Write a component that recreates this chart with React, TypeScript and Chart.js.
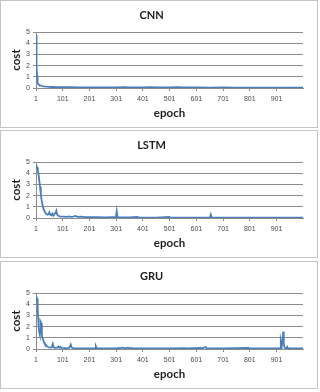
import React, { useEffect, useRef } from "react";
import { Chart, registerables } from "chart.js";

Chart.register(...registerables);

const xTickLabels = [1, 101, 201, 301, 401, 501, 601, 701, 801, 901];
const yTickLabels = [0, 1, 2, 3, 4, 5];

const cnnEpochs = [1, 2, 3, 4, 5, 6, 8, 10, 12, 15, 20, 25, 30, 40, 50, 60, 80, 100, 130, 160, 200, 250, 300, 330, 350, 400, 430, 450, 500, 530, 550, 600, 650, 700, 750, 800, 850, 900, 950, 1000];
const cnnCost = [4.7, 4.6, 3.5, 2.0, 1.1, 0.7, 0.45, 0.35, 0.3, 0.25, 0.2, 0.17, 0.15, 0.12, 0.1, 0.09, 0.08, 0.07, 0.07, 0.06, 0.06, 0.06, 0.05, 0.08, 0.05, 0.06, 0.08, 0.05, 0.05, 0.07, 0.05, 0.05, 0.04, 0.05, 0.04, 0.04, 0.04, 0.04, 0.04, 0.04];

const lstmEpochs = [1, 3, 6, 8, 10, 13, 16, 19, 22, 25, 28, 32, 36, 40, 44, 48, 51, 54, 58, 62, 66, 70, 74, 77, 80, 84, 90, 96, 105, 115, 125, 130, 140, 150, 155, 170, 185, 200, 230, 260, 290, 300, 303, 306, 310, 350, 380, 385, 450, 500, 502, 560, 600, 652, 655, 658, 700, 800, 900, 1000];
const lstmCost = [4.7, 4.6, 4.5, 4.3, 4.0, 3.4, 2.8, 2.1, 1.6, 1.2, 0.9, 0.65, 0.45, 0.35, 0.3, 0.35, 0.5, 0.3, 0.25, 0.4, 0.2, 0.35, 0.45, 0.65, 0.3, 0.2, 0.15, 0.12, 0.12, 0.1, 0.15, 0.1, 0.12, 0.18, 0.1, 0.12, 0.08, 0.08, 0.07, 0.06, 0.08, 0.05, 0.6, 0.1, 0.05, 0.05, 0.1, 0.05, 0.04, 0.1, 0.04, 0.04, 0.04, 0.05, 0.3, 0.05, 0.04, 0.04, 0.04, 0.04];

const gruEpochs = [1, 3, 5, 7, 9, 11, 13, 15, 17, 19, 21, 23, 25, 28, 31, 34, 38, 42, 46, 50, 55, 60, 64, 67, 72, 80, 85, 88, 92, 96, 110, 125, 131, 134, 140, 160, 200, 222, 225, 228, 260, 300, 327, 331, 346, 350, 358, 362, 450, 500, 560, 564, 617, 621, 636, 640, 700, 797, 800, 914, 917, 921, 924, 926, 928, 931, 934, 938, 941, 944, 1000];
const gruCost = [4.7, 4.7, 4.5, 3.8, 2.8, 2.0, 1.5, 1.3, 1.6, 2.4, 2.3, 1.2, 1.0, 0.8, 0.6, 0.45, 0.35, 0.25, 0.18, 0.15, 0.12, 0.15, 0.45, 0.15, 0.1, 0.12, 0.22, 0.1, 0.2, 0.1, 0.08, 0.1, 0.4, 0.15, 0.08, 0.06, 0.06, 0.08, 0.25, 0.08, 0.06, 0.05, 0.12, 0.05, 0.12, 0.05, 0.1, 0.05, 0.05, 0.05, 0.08, 0.05, 0.1, 0.05, 0.17, 0.05, 0.05, 0.1, 0.05, 0.05, 0.75, 0.3, 0.8, 1.55, 0.5, 0.15, 0.05, 0.05, 0.18, 0.05, 0.05];

const PANEL_W = 318;
const PANEL_H = 128;
const GRID = "#8c8c8c";
const TEXT = "#1e1e1e";
const TICK = "#4a4a4a";
const LINE = "#4A7EBB";

function makeConfig(title: string, epochs: number[], costs: number[]): any {
  return {
    type: "line",
    data: {
      datasets: [
        {
          data: epochs.map((e, i) => ({ x: e, y: costs[i] })),
          borderColor: LINE,
          borderWidth: 1.8,
          pointRadius: 0,
          tension: 0,
          fill: false,
        },
      ],
    },
    options: {
      animation: false,
      responsive: false,
      maintainAspectRatio: false,
      devicePixelRatio: 1,
      layout: { padding: { left: 0, right: 15, top: 0, bottom: 0 } },
      plugins: {
        legend: { display: false },
        tooltip: { enabled: false },
        title: {
          display: true,
          text: title,
          color: TEXT,
          font: { family: "Lato", weight: "bold", size: 11 },
          padding: { top: 8.4, bottom: 10.4 },
        },
      },
      scales: {
        x: {
          type: "linear",
          min: 1,
          max: 1000,
          afterBuildTicks: (s: any) => {
            s.ticks = xTickLabels.map((v) => ({ value: v }));
          },
          afterFit: (s: any) => {
            s.height = 40;
          },
          ticks: {
            autoSkip: false,
            maxRotation: 0,
            padding: 4,
            color: TICK,
            font: { family: "Liberation Sans", size: 7 },
          },
          grid: { display: true, drawOnChartArea: false, drawTicks: true, tickLength: 3, color: GRID },
          border: { display: true, color: GRID },
          title: {
            display: true,
            text: "epoch",
            color: TEXT,
            font: { family: "Lato", weight: "bold", size: 11.5 },
            padding: { top: 0, bottom: 8.2 },
          },
        },
        y: {
          min: 0,
          max: 5,
          afterBuildTicks: (s: any) => {
            s.ticks = yTickLabels.map((v) => ({ value: v }));
          },
          afterFit: (s: any) => {
            s.width = 36;
          },
          ticks: {
            autoSkip: false,
            padding: 3,
            color: TICK,
            font: { family: "Liberation Sans", size: 7 },
          },
          grid: { color: GRID, tickLength: 3, drawTicks: true },
          border: { display: true, color: GRID },
          title: {
            display: true,
            text: "cost",
            color: TEXT,
            font: { family: "Lato", weight: "bold", size: 11.5 },
            padding: { top: 9.5, bottom: 0 },
          },
        },
      },
    },
  };
}

function Panel({ top, title, epochs, costs }: { top: number; title: string; epochs: number[]; costs: number[] }) {
  const ref = useRef<HTMLCanvasElement | null>(null);
  useEffect(() => {
    if (!ref.current) return;
    const chart = new Chart(ref.current, makeConfig(title, epochs, costs));
    return () => chart.destroy();
  }, [title, epochs, costs]);
  return (
    <>
      <div
        style={{
          position: "absolute",
          left: 0,
          top,
          width: PANEL_W,
          height: PANEL_H,
          boxSizing: "border-box",
          border: "1px solid #c4c4c4",
          background: "#fff",
        }}
      />
      <canvas
        ref={ref}
        width={PANEL_W}
        height={PANEL_H}
        style={{ position: "absolute", left: 0, top, width: PANEL_W, height: PANEL_H }}
      />
    </>
  );
}

export default function App() {
  return (
    <div style={{ position: "absolute", left: 0, top: 0, width: 320, height: 392, background: "#fff", overflow: "hidden" }}>
      <Panel top={0} title="CNN" epochs={cnnEpochs} costs={cnnCost} />
      <Panel top={130} title="LSTM" epochs={lstmEpochs} costs={lstmCost} />
      <Panel top={261} title="GRU" epochs={gruEpochs} costs={gruCost} />
    </div>
  );
}
